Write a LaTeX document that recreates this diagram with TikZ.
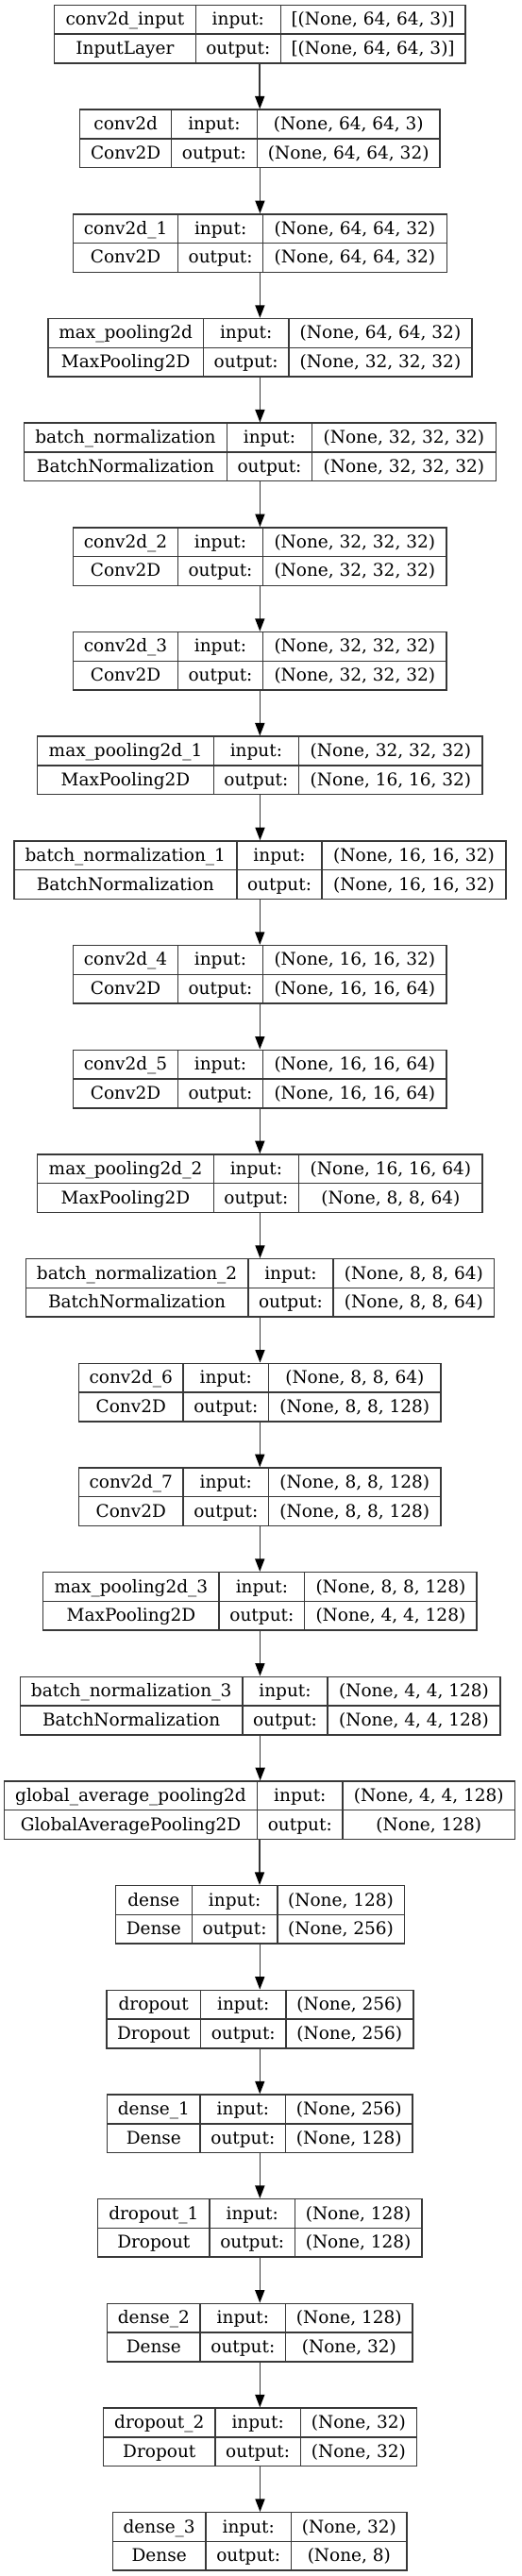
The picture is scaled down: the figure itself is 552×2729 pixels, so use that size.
\documentclass[tikz,border=0pt]{standalone}
\usepackage{fontspec}
\setmainfont{DejaVu Serif}
\usetikzlibrary{arrows.meta}
\definecolor{edge}{HTML}{383838}
\tikzset{
 boxframe/.style={draw=edge, line width=1.5pt, inner sep=0pt, rectangle},
 cell/.style={inner sep=0pt, font=\fontsize{18.5}{21}\selectfont, anchor=base, text=black},
 divider/.style={draw=edge, line width=1.5pt},
 flow/.style={draw=edge, line width=1.5pt, -{Triangle[length=13.5pt,width=10pt,fill=black,color=black]}},
}
% #1 index, #2 name, #3 class, #4 input, #5 output, #6 L, #7 c1, #8 c2, #9 R  (x values scaled by 1.0541)
\newcommand\layerbox[9]{%
 \pgfmathsetmacro\ty{5.5+(#1-1)*110.675}%
 \pgfmathsetmacro\by{\ty+61.5}%
 \pgfmathsetmacro\my{\ty+30.75}%
 \pgfmathsetmacro\ra{\ty+21.4}%
 \pgfmathsetmacro\rb{\ty+52.1}%
 \pgfmathsetmacro\xl{#6*1.0541}%
 \pgfmathsetmacro\xp{#7*1.0541}%
 \pgfmathsetmacro\xq{#8*1.0541}%
 \pgfmathsetmacro\xr{#9*1.0541}%
 \pgfmathsetmacro\bw{\xr-\xl}%
 \pgfmathsetmacro\cx{(\xl+\xr)/2}%
 \pgfmathsetmacro\xa{(\xl+\xp)/2}%
 \pgfmathsetmacro\xb{(\xp+\xq)/2}%
 \pgfmathsetmacro\xc{(\xq+\xr)/2}%
 \node[boxframe, minimum width=\bw pt, minimum height=61.5pt] (L#1) at (\cx,\my) {};
 \draw[divider] (\xl,\my) -- (\xr,\my);
 \draw[divider] (\xp,\ty) -- (\xp,\by);
 \draw[divider] (\xq,\ty) -- (\xq,\by);
 \node[cell] (L#1name) at (\xa,\ra) {#2};
 \node[cell] (L#1class) at (\xa,\rb) {#3};
 \node[cell] (L#1inl) at (\xb,\ra) {input:};
 \node[cell] (L#1outl) at (\xb,\rb) {output:};
 \node[cell] (L#1in) at (\xc,\ra) {#4};
 \node[cell] (L#1out) at (\xc,\rb) {#5};
}
\begin{document}
\begin{tikzpicture}[x=1pt,y=-1pt]
\useasboundingbox (0,0) rectangle (552,2729);
\fill[white] (0,0) rectangle (552,2729);
\layerbox{1}{conv2d\_input}{InputLayer}{[(None, 64, 64, 3)]}{[(None, 64, 64, 3)]}{54.5}{196.7}{282}{467.7}
\layerbox{2}{conv2d}{Conv2D}{(None, 64, 64, 3)}{(None, 64, 64, 32)}{80.3}{172.3}{258.3}{442.3}
\layerbox{3}{conv2d\_1}{Conv2D}{(None, 64, 64, 32)}{(None, 64, 64, 32)}{73.5}{179}{264.3}{449}
\layerbox{4}{max\_pooling2d}{MaxPooling2D}{(None, 64, 64, 32)}{(None, 32, 32, 32)}{48.3}{204.3}{290.3}{474.3}
\layerbox{5}{batch\_normalization}{BatchNormalization}{(None, 32, 32, 32)}{(None, 32, 32, 32)}{24.3}{228}{313.7}{498.3}
\layerbox{6}{conv2d\_2}{Conv2D}{(None, 32, 32, 32)}{(None, 32, 32, 32)}{73.7}{178.7}{264.3}{448.7}
\layerbox{7}{conv2d\_3}{Conv2D}{(None, 32, 32, 32)}{(None, 32, 32, 32)}{73.7}{178.7}{264.3}{448.7}
\layerbox{8}{max\_pooling2d\_1}{MaxPooling2D}{(None, 32, 32, 32)}{(None, 16, 16, 32)}{37.7}{214.7}{300.3}{485}
\layerbox{9}{batch\_normalization\_1}{BatchNormalization}{(None, 16, 16, 32)}{(None, 16, 16, 32)}{14}{238}{323.7}{508.3}
\layerbox{10}{conv2d\_4}{Conv2D}{(None, 16, 16, 32)}{(None, 16, 16, 64)}{73.7}{178.7}{264.3}{448.7}
\layerbox{11}{conv2d\_5}{Conv2D}{(None, 16, 16, 64)}{(None, 16, 16, 64)}{73.7}{178.7}{264.3}{448.7}
\layerbox{12}{max\_pooling2d\_2}{MaxPooling2D}{(None, 16, 16, 64)}{(None, 8, 8, 64)}{37.7}{214.7}{300.3}{485}
\layerbox{13}{batch\_normalization\_2}{BatchNormalization}{(None, 8, 8, 64)}{(None, 8, 8, 64)}{26}{249.3}{335}{496.7}
\layerbox{14}{conv2d\_6}{Conv2D}{(None, 8, 8, 64)}{(None, 8, 8, 128)}{79.3}{184}{270}{443}
\layerbox{15}{conv2d\_7}{Conv2D}{(None, 8, 8, 128)}{(None, 8, 8, 128)}{79.3}{184}{270}{443}
\layerbox{16}{max\_pooling2d\_3}{MaxPooling2D}{(None, 8, 8, 128)}{(None, 4, 4, 128)}{43.3}{220.3}{306}{479.3}
\layerbox{17}{batch\_normalization\_3}{BatchNormalization}{(None, 4, 4, 128)}{(None, 4, 4, 128)}{20.3}{243.7}{329.3}{502.7}
\layerbox{18}{global\_average\_pooling2d}{GlobalAveragePooling2D}{(None, 4, 4, 128)}{(None, 128)}{4.1}{258.7}{344.3}{517.7}
\layerbox{19}{dense}{Dense}{(None, 128)}{(None, 256)}{116}{193}{278.7}{406.3}
\layerbox{20}{dropout}{Dropout}{(None, 256)}{(None, 256)}{107}{201.7}{287.3}{415.3}
\layerbox{21}{dense\_1}{Dense}{(None, 256)}{(None, 128)}{107.7}{201.3}{287}{414.7}
\layerbox{22}{dropout\_1}{Dropout}{(None, 128)}{(None, 128)}{98.3}{210.7}{296.3}{424}
\layerbox{23}{dense\_2}{Dense}{(None, 128)}{(None, 32)}{107.7}{201.3}{287}{414.7}
\layerbox{24}{dropout\_2}{Dropout}{(None, 32)}{(None, 32)}{104}{216.3}{302}{418.7}
\layerbox{25}{dense\_3}{Dense}{(None, 32)}{(None, 8)}{113.3}{206.7}{292.7}{409}
\foreach \i [evaluate=\i as \j using int(\i+1)] in {1,...,24}{
 \draw[flow] (L\i.south) -- (L\i.south |- L\j.north);
}
\end{tikzpicture}
\end{document}
